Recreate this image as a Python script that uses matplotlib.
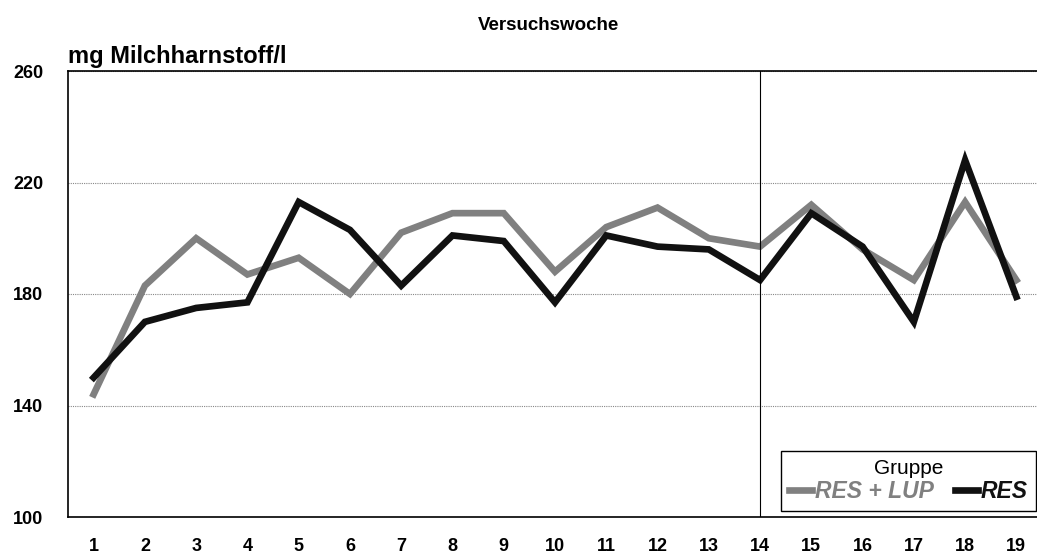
import numpy as np
import matplotlib.pyplot as plt

plt.rcParams['font.family'] = ['Liberation Sans', 'DejaVu Sans']

# Versuchswoche 1..19
weeks = [str(w) for w in range(1, 20)]
res_lup = [144, 183, 200, 187, 193, 180, 202, 209, 209, 188, 204, 211, 200, 197, 212, 196, 185, 213, 185]
res = [150, 170, 175, 177, 213, 203, 183, 201, 199, 177, 201, 197, 196, 185, 209, 197, 170, 228, 179]
y_ticks = [100, 140, 180, 220, 260]

fig = plt.figure(figsize=(10.37, 5.54), dpi=100)
ax = fig.add_axes([68 / 1037, 1 - 517 / 554, (1042 - 68) / 1037, (517 - 71) / 554])

x = np.arange(len(weeks))
ax.plot(x, res_lup, color='#808080', lw=4.8, solid_joinstyle='miter', label='RES + LUP')
ax.plot(x, res, color='#111111', lw=4.8, solid_joinstyle='miter', label='RES')

# Trennlinie nach Woche 14
ax.axvline(13, color='black', lw=0.8)

ax.set_xlim(-0.5, len(weeks) - 0.5)
ax.set_ylim(100, 260)
ax.set_yticks(y_ticks)
ax.set_yticklabels([str(v) for v in y_ticks], fontsize=13, fontweight='bold')
ax.set_xticks(x)
ax.set_xticklabels(weeks, fontsize=13, fontweight='bold')
ax.tick_params(axis='x', length=0, pad=15)
ax.tick_params(axis='y', length=0, pad=18)
ax.yaxis.grid(True, color='#888888', ls=(0, (1, 1)), lw=0.8)
ax.set_axisbelow(True)
for s in ['left', 'bottom', 'top']:
    ax.spines[s].set_color('black')
    ax.spines[s].set_linewidth(1.2)
ax.spines['right'].set_visible(False)

fig.text(548 / 1037, 1 - 26 / 554, 'Versuchswoche', ha='center', va='center',
         fontsize=13.5, fontweight='bold')
fig.text(68 / 1037, 1 - 57 / 554, 'mg Milchharnstoff/l', ha='left', va='center',
         fontsize=17, fontweight='bold')

leg = ax.legend(loc='lower right', bbox_to_anchor=(1036 / 1037, 1 - 511 / 554),
                bbox_transform=fig.transFigure, borderaxespad=0,
                ncol=2, title='Gruppe', fontsize=16.5, title_fontsize=15,
                handlelength=1.0, handletextpad=0.15, columnspacing=0.9,
                borderpad=0.35, labelspacing=0.1, fancybox=False, framealpha=1,
                edgecolor='black')
leg.get_frame().set_linewidth(1.0)
for txt, col in zip(leg.get_texts(), ['#808080', '#111111']):
    txt.set_color(col)
    txt.set_fontweight('bold')
    txt.set_fontstyle('italic')

fig.savefig('out.png', dpi=100)
